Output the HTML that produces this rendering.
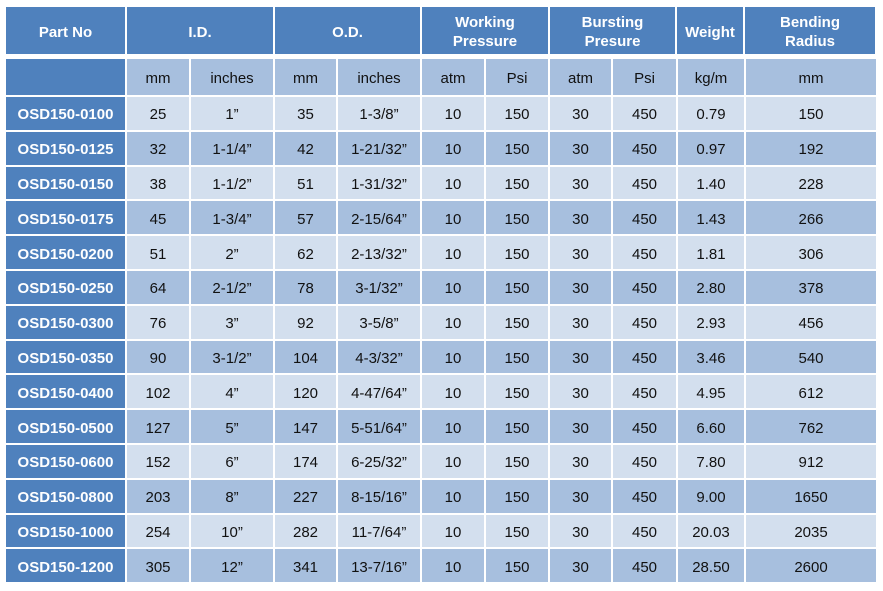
<!DOCTYPE html><html><head><style>
body{margin:0;background:#fff;width:883px;height:591px;overflow:hidden;font-family:"Liberation Sans",Arial,sans-serif}
table{position:absolute;left:4px;border-collapse:separate;border-spacing:2px;table-layout:fixed}
td{padding:3px 0 0 0;text-align:center;font-size:15px;color:#111;box-sizing:border-box}
.h td{background:#4f81bd;color:#fff;font-weight:bold;font-size:15px;line-height:19px;height:47px}
td.p{background:#4f81bd;color:#fff;font-weight:bold}
.s td{background:#a7bfde;height:36px}
tr.o td{background:#d3dfee}
tr.e td{background:#a7bfde}
tr.o td.p,tr.e td.p,.s td.p{background:#4f81bd}
tr.o td,tr.e td{height:32.8px}
</style></head><body>
<table style="top:5px"><colgroup><col style="width:119px"><col style="width:146px"><col style="width:145px"><col style="width:126px"><col style="width:125px"><col style="width:66px"><col style="width:130px"></colgroup>
<tr class="h"><td>Part No</td><td>I.D.</td><td>O.D.</td><td>Working<br>Pressure</td><td>Bursting<br>Presure</td><td>Weight</td><td>Bending<br>Radius</td></tr></table>
<table style="top:57px"><colgroup><col style="width:119px"><col style="width:62px"><col style="width:82px"><col style="width:61px"><col style="width:82px"><col style="width:62px"><col style="width:62px"><col style="width:61px"><col style="width:63px"><col style="width:66px"><col style="width:130px"></colgroup>
<tr class="s"><td class="p"></td><td>mm</td><td>inches</td><td>mm</td><td>inches</td><td>atm</td><td>Psi</td><td>atm</td><td>Psi</td><td>kg/m</td><td>mm</td></tr>
<tr class="o"><td class="p">OSD150-0100</td><td>25</td><td>1”</td><td>35</td><td>1-3/8”</td><td>10</td><td>150</td><td>30</td><td>450</td><td>0.79</td><td>150</td></tr>
<tr class="e"><td class="p">OSD150-0125</td><td>32</td><td>1-1/4”</td><td>42</td><td>1-21/32”</td><td>10</td><td>150</td><td>30</td><td>450</td><td>0.97</td><td>192</td></tr>
<tr class="o"><td class="p">OSD150-0150</td><td>38</td><td>1-1/2”</td><td>51</td><td>1-31/32”</td><td>10</td><td>150</td><td>30</td><td>450</td><td>1.40</td><td>228</td></tr>
<tr class="e"><td class="p">OSD150-0175</td><td>45</td><td>1-3/4”</td><td>57</td><td>2-15/64”</td><td>10</td><td>150</td><td>30</td><td>450</td><td>1.43</td><td>266</td></tr>
<tr class="o"><td class="p">OSD150-0200</td><td>51</td><td>2”</td><td>62</td><td>2-13/32”</td><td>10</td><td>150</td><td>30</td><td>450</td><td>1.81</td><td>306</td></tr>
<tr class="e"><td class="p">OSD150-0250</td><td>64</td><td>2-1/2”</td><td>78</td><td>3-1/32”</td><td>10</td><td>150</td><td>30</td><td>450</td><td>2.80</td><td>378</td></tr>
<tr class="o"><td class="p">OSD150-0300</td><td>76</td><td>3”</td><td>92</td><td>3-5/8”</td><td>10</td><td>150</td><td>30</td><td>450</td><td>2.93</td><td>456</td></tr>
<tr class="e"><td class="p">OSD150-0350</td><td>90</td><td>3-1/2”</td><td>104</td><td>4-3/32”</td><td>10</td><td>150</td><td>30</td><td>450</td><td>3.46</td><td>540</td></tr>
<tr class="o"><td class="p">OSD150-0400</td><td>102</td><td>4”</td><td>120</td><td>4-47/64”</td><td>10</td><td>150</td><td>30</td><td>450</td><td>4.95</td><td>612</td></tr>
<tr class="e"><td class="p">OSD150-0500</td><td>127</td><td>5”</td><td>147</td><td>5-51/64”</td><td>10</td><td>150</td><td>30</td><td>450</td><td>6.60</td><td>762</td></tr>
<tr class="o"><td class="p">OSD150-0600</td><td>152</td><td>6”</td><td>174</td><td>6-25/32”</td><td>10</td><td>150</td><td>30</td><td>450</td><td>7.80</td><td>912</td></tr>
<tr class="e"><td class="p">OSD150-0800</td><td>203</td><td>8”</td><td>227</td><td>8-15/16”</td><td>10</td><td>150</td><td>30</td><td>450</td><td>9.00</td><td>1650</td></tr>
<tr class="o"><td class="p">OSD150-1000</td><td>254</td><td>10”</td><td>282</td><td>11-7/64”</td><td>10</td><td>150</td><td>30</td><td>450</td><td>20.03</td><td>2035</td></tr>
<tr class="e"><td class="p">OSD150-1200</td><td>305</td><td>12”</td><td>341</td><td>13-7/16”</td><td>10</td><td>150</td><td>30</td><td>450</td><td>28.50</td><td>2600</td></tr>
</table></body></html>
